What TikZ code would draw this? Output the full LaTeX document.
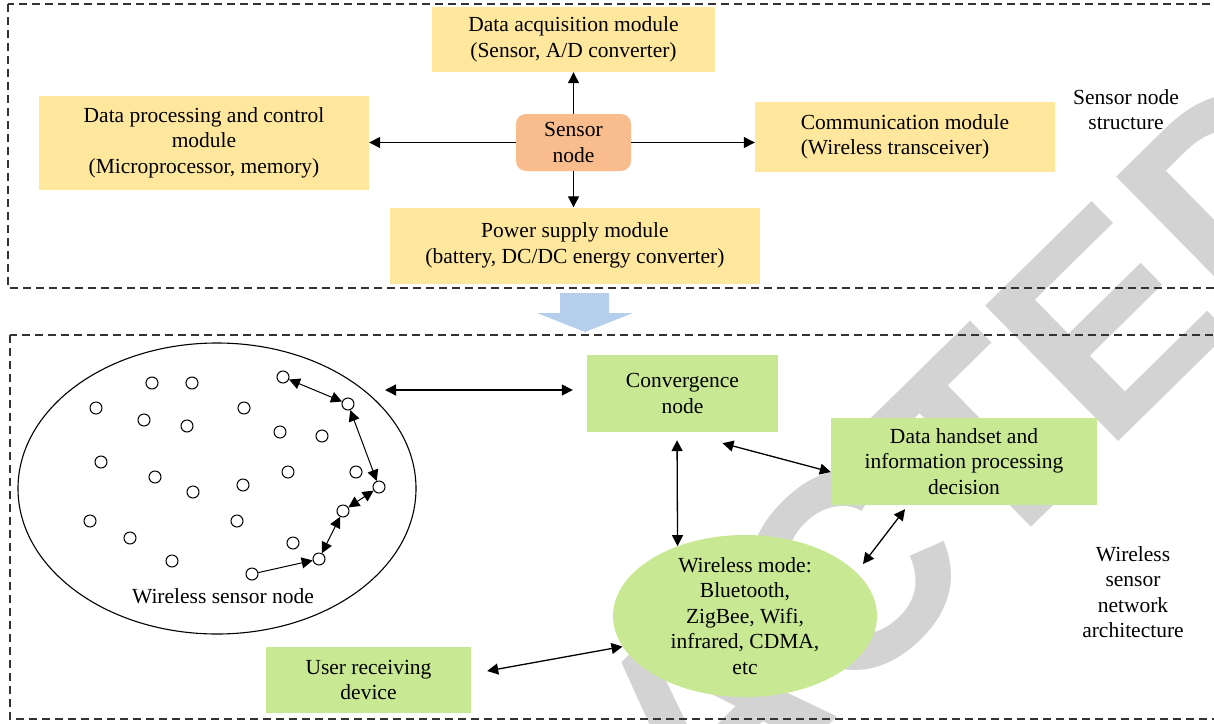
\documentclass[tikz,border=0pt]{standalone}
\usepackage{fontspec}
\setmainfont{Liberation Serif}
\newfontfamily\wmfont{Liberation Sans}
\usetikzlibrary{shapes.geometric, arrows.meta, positioning}

\definecolor{modyellow}{RGB}{255,231,158}
\definecolor{netgreen}{RGB}{201,232,147}
\definecolor{snorange}{RGB}{249,188,140}
\definecolor{flowblue}{RGB}{180,206,236}
\definecolor{wmgray}{RGB}{211,211,211}

\begin{document}
\begin{tikzpicture}
  [x=1pt, y=-1pt, node distance=103pt,
   font=\fontsize{21.5}{25.5}\selectfont,
   mod/.style={fill=modyellow, align=center, inner sep=0pt},
   grn/.style={fill=netgreen, align=center, inner sep=0pt},
   snode/.style={circle, draw, line width=1pt, minimum size=12pt, inner sep=0pt},
   arr/.style={-{Triangle[length=11pt,width=11pt]}, line width=1.3pt},
   biarr/.style={{Triangle[length=11pt,width=11pt]}-{Triangle[length=11pt,width=11pt]}, line width=1.3pt},
   dashbox/.style={draw=black!80, line width=1.1pt, dash pattern=on 8pt off 5pt}]

\useasboundingbox (0,0) rectangle (1214,723);

% watermark
\node [rotate=44.5, anchor=base, text=wmgray, inner sep=0pt,
       font=\wmfont\bfseries\fontsize{276}{276}\selectfont] (wm) at (772,782) {RETRACTED};

%%%  frames
\draw [dashbox] (8,4) rectangle (1222,288);
\draw [dashbox] (10,335) rectangle (1222,719);

%%%  sensor node structure

% centre
\node [rounded corners=10pt, fill=snorange, minimum width=115pt, minimum height=57pt,
       align=center, inner sep=0pt] (sn) at (573.5,142.5) {Sensor\\node};

% modules round the centre
\node [mod, above of=sn, minimum width=283pt, minimum height=65pt] (acq) {Data acquisition module\\(Sensor, A/D converter)};
\node [mod, below of=sn, xshift=1.5pt, minimum width=370pt, minimum height=76pt] (pow) {Power supply module\\(battery, DC/DC energy converter)};
\node [mod, left of=sn, node distance=369.5pt, minimum width=330pt, minimum height=94pt] (proc) {Data processing and control\\module\\(Microprocessor, memory)};
\node [mod, right of=sn, node distance=331.5pt, yshift=5.5pt, minimum width=300pt, minimum height=70pt] (comm) {\begin{tabular}{@{}l@{}}Communication module\\(Wireless transceiver)\end{tabular}};

\node [align=center] (snlab) at (1126,109.5) {Sensor node\\structure};

% module edges
\draw [arr] (sn) to (acq);
\draw [arr] (sn.south) to (sn.south |- pow.north);
\draw [arr] (sn) to (proc);
\draw [arr] (sn.east) to (sn.east -| comm.west);

% down arrow
\fill [flowblue] (560,293) -- (609,293) -- (609,313) -- (633,313) -- (585,332) -- (537,313) -- (560,313) -- cycle;

%%%  network architecture

% sensor field
\node [ellipse, draw, line width=1.1pt, minimum width=398pt, minimum height=291pt] (net) at (217,488.5) {};
\node (netlab) at (223,596) {Wireless sensor node};

\node [snode] (s1) at (152,383) {};
\node [snode] (s2) at (192,383) {};
\node [snode] (s3) at (283,377) {};
\node [snode] (s4) at (96,408) {};
\node [snode] (s5) at (144,420) {};
\node [snode] (s6) at (187,426) {};
\node [snode] (s7) at (244,408) {};
\node [snode] (s8) at (348,404) {};
\node [snode] (s9) at (280,432) {};
\node [snode] (s10) at (322,436) {};
\node [snode] (s11) at (101,462) {};
\node [snode] (s12) at (155,477) {};
\node [snode] (s13) at (193,492) {};
\node [snode] (s14) at (243,485) {};
\node [snode] (s15) at (288,472) {};
\node [snode] (s16) at (356,472) {};
\node [snode] (s17) at (379,487) {};
\node [snode] (s18) at (90,521) {};
\node [snode] (s19) at (130,538) {};
\node [snode] (s20) at (237,521) {};
\node [snode] (s21) at (343,511) {};
\node [snode] (s22) at (293,543) {};
\node [snode] (s23) at (172,561) {};
\node [snode] (s24) at (319,559) {};
\node [snode] (s25) at (252,574) {};

% hops
\draw [biarr, line width=1pt] (s3) to (s8);
\draw [biarr, line width=1pt] (s8) to (s17);
\draw [biarr, line width=1pt] (s17) to (s21);
\draw [biarr, line width=1pt] (s21) to (s24);
\draw [arr, line width=1pt] (s25) to (s24);

% green nodes
\node [grn, minimum width=191pt, minimum height=77pt] (conv) at (682.5,393.5) {Convergence\\node};
\node [grn, minimum width=266pt, minimum height=87pt] (hand) at (964,461.5) {Data handset and\\information processing\\decision};
\node [ellipse, fill=netgreen, minimum width=264pt, minimum height=162pt] (wmode) at (745,616) {};
\node [align=center] (wmtext) at (wmode) {Wireless mode:\\Bluetooth,\\ZigBee, Wifi,\\infrared, CDMA,\\etc};
\node [grn, minimum width=205pt, minimum height=66pt] (user) at (368.5,680) {User receiving\\device};

\node [align=center] (wsnlab) at (1133,592) {Wireless\\sensor\\network\\architecture};

% network edges
\coordinate (netr) at (385,390);
\coordinate (hw) at (863,564);
\draw [biarr, shorten >=14pt] (netr) to (conv.west |- netr);
\draw [biarr, shorten <=8pt] ([xshift=-5.5pt]conv.south) to (wmode.134);
\draw [biarr] ([xshift=40pt,yshift=-11pt]conv.south) to ([yshift=-10.5pt]hand.west);
\draw [biarr] ([xshift=-59pt,yshift=-4pt]hand.south) to (hw);
\draw [biarr] ([xshift=16pt,yshift=9pt]user.east) to (wmode.194);

\end{tikzpicture}
\end{document}
